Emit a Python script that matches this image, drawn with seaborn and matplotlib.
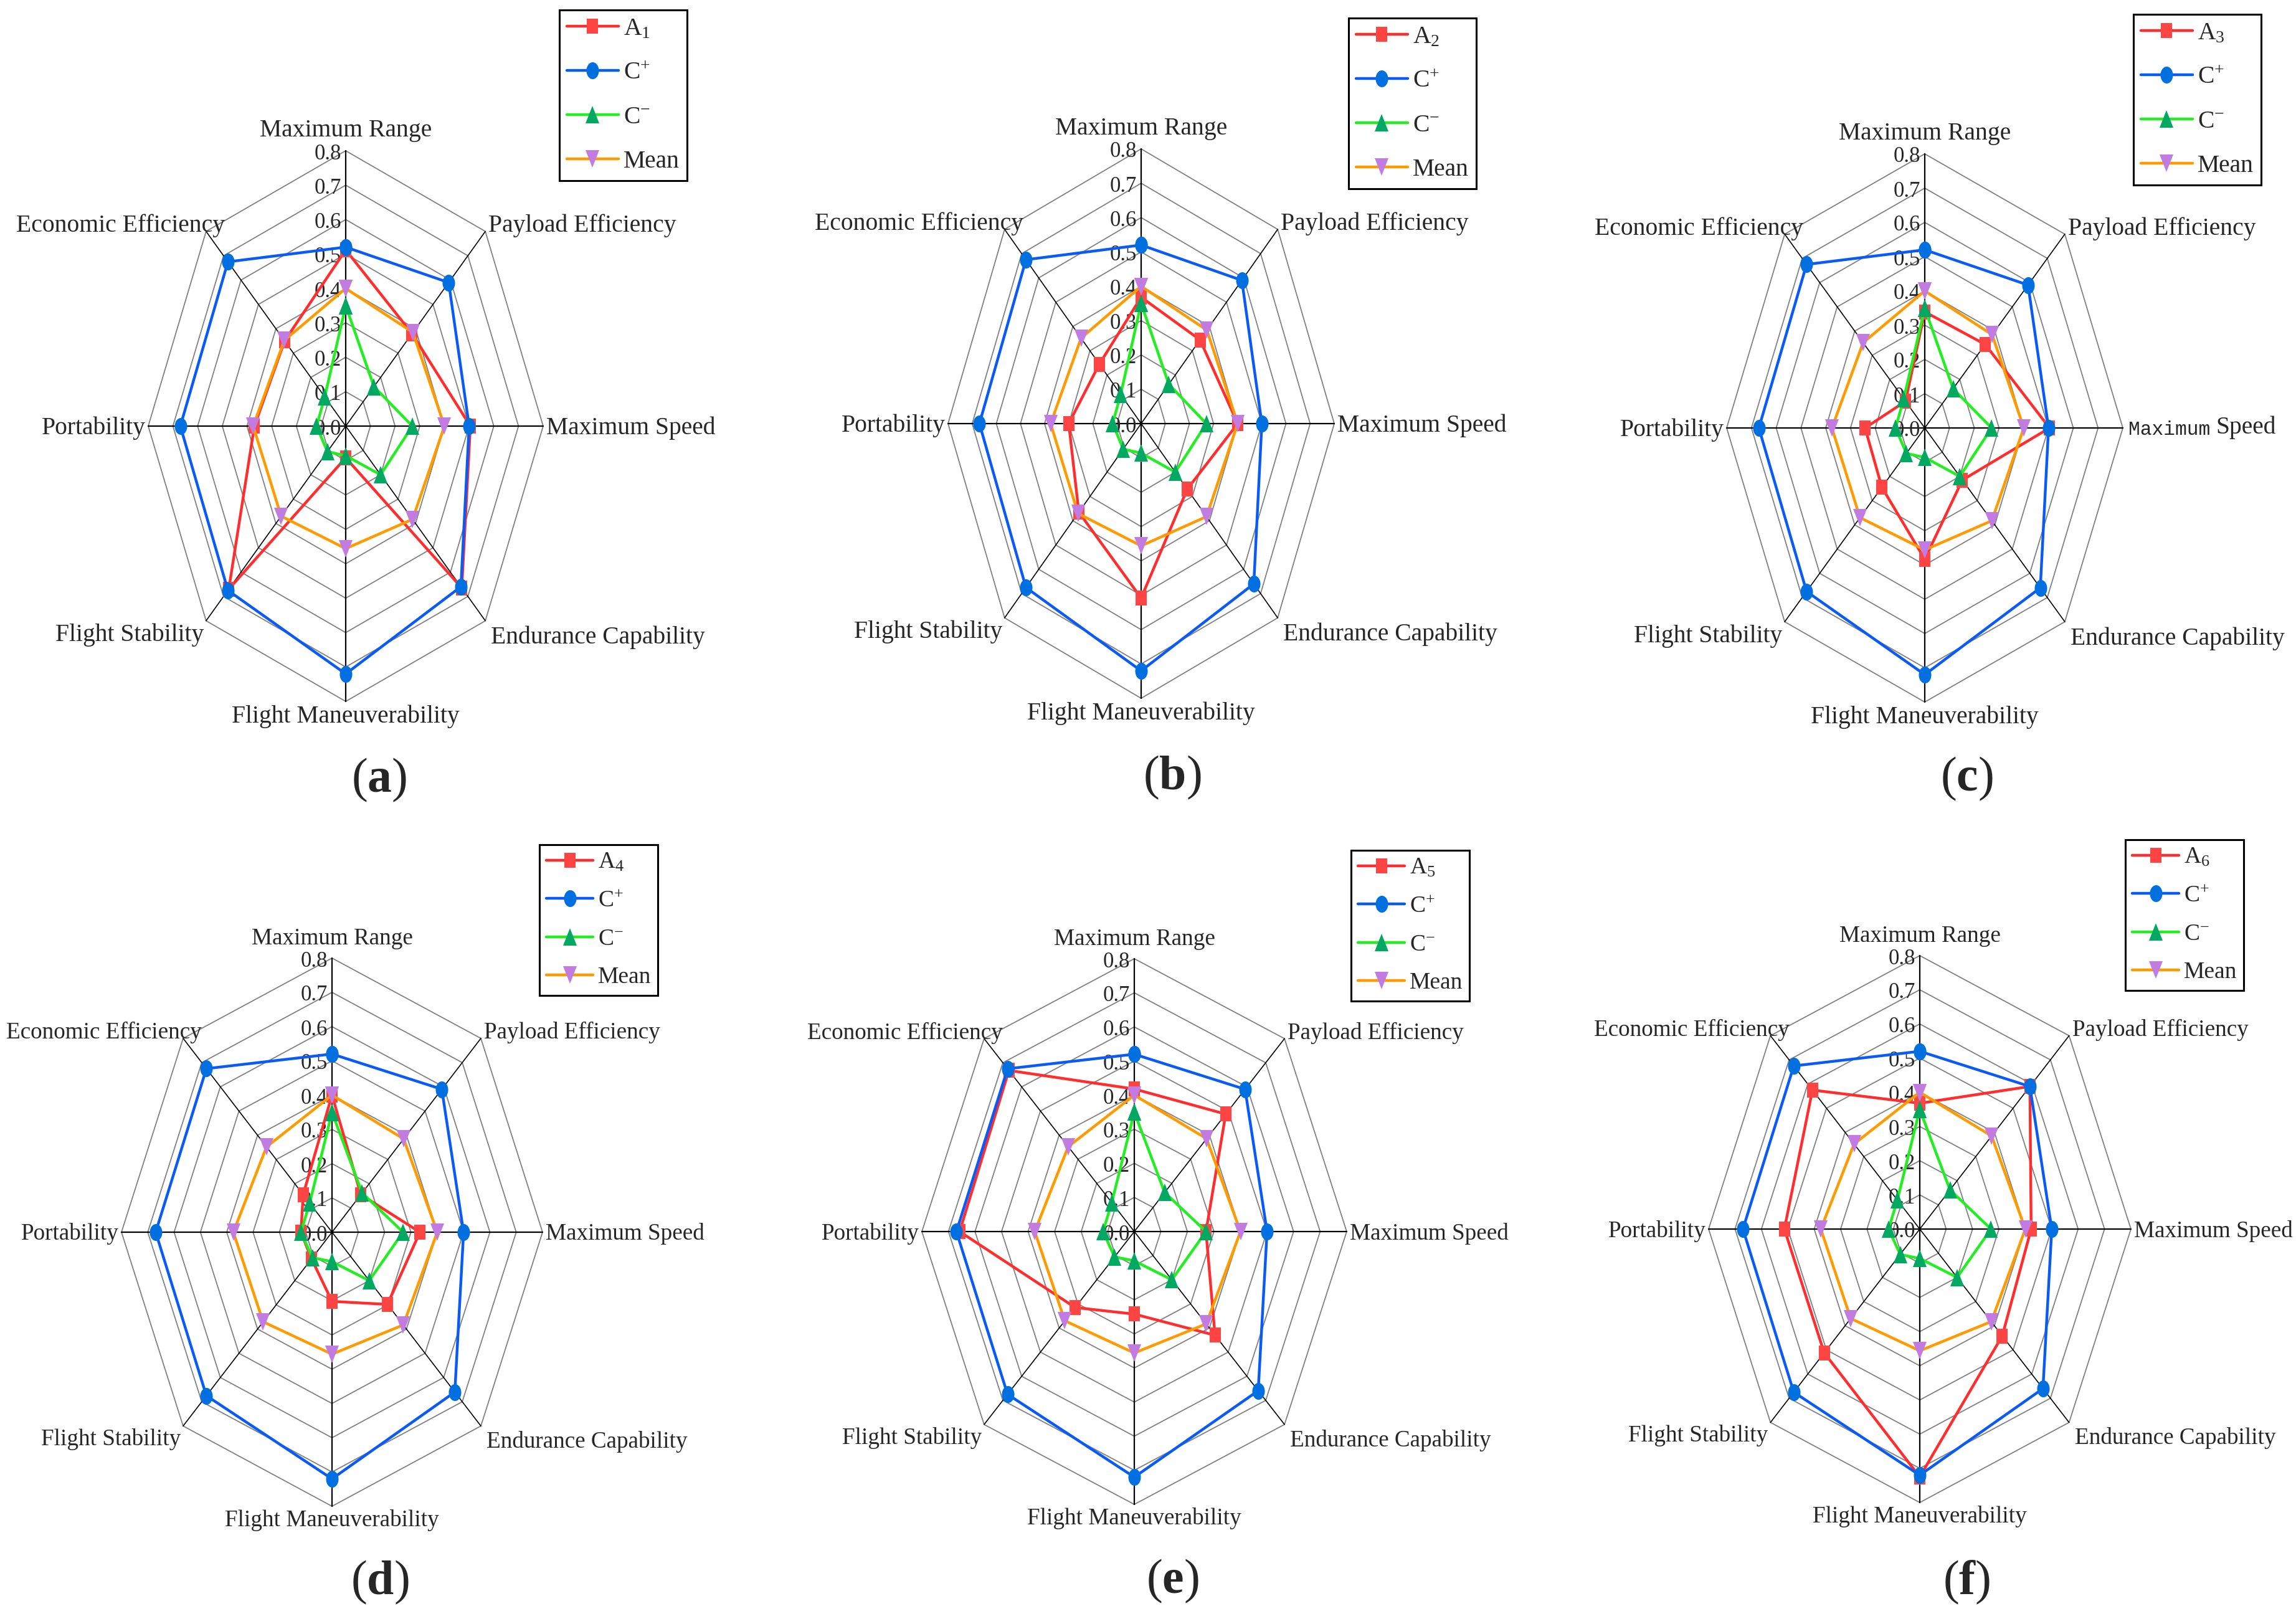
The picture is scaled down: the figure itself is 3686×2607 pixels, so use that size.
import numpy as np
import seaborn as sns
import matplotlib.pyplot as plt
from matplotlib.markers import MarkerStyle
from matplotlib.transforms import Affine2D

# criteria, clockwise from the top
criteria = [
    "Maximum Range",
    "Payload Efficiency",
    "Maximum Speed",
    "Endurance Capability",
    "Flight Maneuverability",
    "Flight Stability",
    "Portability",
    "Economic Efficiency",
]
ticks = [0.0, 0.1, 0.2, 0.3, 0.4, 0.5, 0.6, 0.7, 0.8]

c_plus = [0.52, 0.59, 0.50, 0.66, 0.72, 0.675, 0.67, 0.675]
c_minus = [0.35, 0.162, 0.27, 0.20, 0.086, 0.105, 0.118, 0.12]
mean = [0.40, 0.385, 0.40, 0.383, 0.356, 0.37, 0.375, 0.352]

a1 = [0.512, 0.38, 0.505, 0.665, 0.092, 0.67, 0.37, 0.35]
a2 = [0.368, 0.345, 0.40, 0.27, 0.508, 0.365, 0.30, 0.245]
a3 = [0.339, 0.345, 0.504, 0.215, 0.383, 0.245, 0.241, 0.11]
a4 = [0.40, 0.155, 0.334, 0.298, 0.202, 0.11, 0.118, 0.155]
a5 = [0.418, 0.487, 0.27, 0.43, 0.242, 0.315, 0.658, 0.668]
a6 = [0.368, 0.59, 0.422, 0.442, 0.725, 0.512, 0.513, 0.575]

alternatives = [a1, a2, a3, a4, a5, a6]
panel_tags = ["a", "b", "c", "d", "e", "f"]

sns.set_theme(style="white")
plt.rcParams["font.family"] = ["Liberation Serif", "DejaVu Serif"]
plt.rcParams["mathtext.fontset"] = "custom"
plt.rcParams["mathtext.rm"] = "Liberation Serif"
plt.rcParams["mathtext.it"] = "Liberation Serif:italic"
plt.rcParams["mathtext.bf"] = "Liberation Serif:bold"

W, H = 3686, 2607
PT = 0.72  # pixels -> points at dpi 100
fig = plt.figure(figsize=(W / 100, H / 100), dpi=100)
fig.patch.set_facecolor("white")

# layout in pixels: centre x, centre y, half width and half height of the 0.8 ring
layout = [
    (555, 684, 317, 442),
    (1832, 680, 310, 441),
    (3090, 687, 318, 440),
    (533, 1978, 338, 440),
    (1821, 1977, 341, 438),
    (3082, 1973, 339, 439),
]
tag_pos = [(609, 1252), (1882, 1248), (3157, 1250), (610, 2540), (1882, 2538), (3157, 2540)]
legend_pos = [(898, 16), (2165, 29), (3425, 23), (866, 1356), (2169, 1365), (3412, 1348)]

# label placement per criterion: ha, va, dx, dy (pixels, dy up)
label_style = [
    ("center", "bottom", 0, 14),
    ("left", "center", 5, 9),
    ("left", "center", 5, -3),
    ("left", "top", 9, -8),
    ("center", "top", 0, -5),
    ("right", "top", -4, -4),
    ("right", "center", -4, -3),
    ("right", "center", 30, 9),
]

theta = np.linspace(0, 2 * np.pi, len(criteria), endpoint=False)
theta_closed = np.append(theta, 2 * np.pi)


def stretched(shape, sx):
    return MarkerStyle(shape, transform=Affine2D().scale(sx, 1.0))


for i, (cx, cy, rx, ry) in enumerate(layout):
    top_row = i < 3
    label_fs = 28.5 if top_row else 26.7

    rect = [(cx - rx) / W, 1 - (cy + ry) / H, 2 * rx / W, 2 * ry / H]
    ax = fig.add_axes(rect, projection="polar")
    ax.set_theta_zero_location("N")
    ax.set_theta_direction(-1)
    ax.set_aspect("auto")
    ax.set_facecolor("none")

    # octagon rings and spokes
    for t in ticks[1:]:
        ax.plot(theta_closed, [t] * len(theta_closed), color="#808080",
                lw=1.3, zorder=1, clip_on=False)
    for k, th in enumerate(theta):
        ax.plot([th, th], [0, 0.8], color="black",
                lw=1.6 if k % 2 == 0 else 1.2, zorder=1.5, clip_on=False)

    # radial tick labels
    for t in ticks:
        ax.annotate(f"{t:.1f}", xy=(0, t), xytext=(-7 * PT, -5 * PT),
                    textcoords="offset points", ha="right", va="center",
                    fontsize=25, zorder=1.8, annotation_clip=False)

    series = [
        (f"A$_{{{i + 1}}}$", alternatives[i], "#FF2D2D", "#FF4444", stretched("s", 0.75), 17.5),
        ("C$^{+}$", c_plus, "#0A5AF5", "#0070E0", stretched("o", 0.74), 19.5),
        ("C$^{-}$", c_minus, "#22EE22", "#00A862", stretched("^", 0.82), 19.5),
        ("Mean", mean, "#FF9A00", "#C27BE0", stretched("v", 0.82), 19.5),
    ]
    for z, (label, vals, lc, mc, mk, ms) in enumerate(series):
        sns.lineplot(
            x=theta_closed,
            y=list(vals) + [vals[0]],
            ax=ax,
            sort=False,
            estimator=None,
            color=lc,
            lw=3.2,
            marker=mk,
            markersize=ms,
            markerfacecolor=mc,
            markeredgewidth=0,
            label=label,
            zorder=3 + z * 0.1,
            clip_on=False,
        )

    ax.set_ylim(0, 0.8)
    ax.set_xticks([])
    ax.set_yticks([])
    ax.grid(False)
    ax.spines["polar"].set_visible(False)
    ax.set_xlabel("")
    ax.set_ylabel("")

    # criterion names
    for k, (th, name, (ha, va, dx, dy)) in enumerate(zip(theta, criteria, label_style)):
        if i == 2 and k == 2:
            # panel (c) shows "Maximum" in a different (monospaced) face
            first = ax.annotate("Maximum", xy=(th, 0.8), xytext=(9 * PT, dy * PT),
                                textcoords="offset points", ha="left", va="center",
                                fontsize=22.5, family="Liberation Mono",
                                zorder=4, annotation_clip=False)
            ax.annotate("Speed", xy=(1, 0), xycoords=first, xytext=(9 * PT, 0),
                        textcoords="offset points", ha="left", va="bottom",
                        fontsize=label_fs, zorder=4, annotation_clip=False)
            continue
        ax.annotate(name, xy=(th, 0.8), xytext=(dx * PT, dy * PT),
                    textcoords="offset points", ha=ha, va=va,
                    fontsize=label_fs, zorder=4, annotation_clip=False)

    lx, ly = legend_pos[i]
    leg = ax.legend(
        loc="upper left",
        bbox_to_anchor=(lx / W, 1 - ly / H),
        bbox_transform=fig.transFigure,
        fontsize=28.5 if top_row else 27,
        frameon=True,
        fancybox=False,
        shadow=False,
        edgecolor="black",
        facecolor="white",
        framealpha=1,
        borderpad=0.3,
        handlelength=2.1 if top_row else 2.0,
        handletextpad=0.2,
        labelspacing=0.86 if top_row else 0.72,
        borderaxespad=0,
    )
    leg.get_frame().set_linewidth(2.2)

    tx, ty = tag_pos[i]
    fig.text(tx / W, 1 - ty / H, f"($\\mathbf{{{panel_tags[i]}}}$)",
             ha="center", va="center", fontsize=56)

fig.savefig("out.png", dpi=100, facecolor="white")
